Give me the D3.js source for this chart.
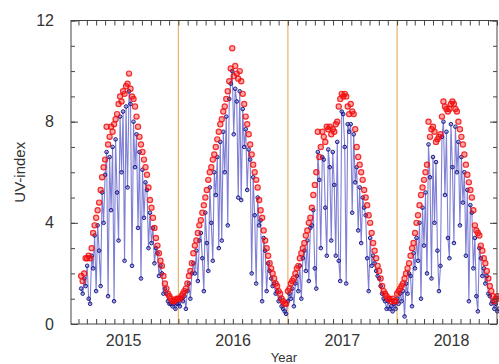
<!DOCTYPE html>
<html>
<head>
<meta charset="utf-8">
<title>UV-index</title>
<script src="https://cdn.jsdelivr.net/npm/d3@7"></script>
<style>
  body { margin: 0; background: #fff; }
  svg { display: block; font-family: "Liberation Sans", Arial, Helvetica, sans-serif; }
</style>
</head>
<body>
<div id="chart"></div>
<script>
// UV-index, one reading every 5 days; day offsets counted from 1 Jan of each year
var step = 5;
var years = [2015, 2016, 2017, 2018];
var firstDay = [40, 0, 0, 0];

// clear-sky UV (red)
var clear2015 = [1.9,1.7,2.0,2.6,2.6,2.7,2.6,3.0,3.6,3.9,4.2,4.5,4.8,5.3,5.8,6.2,6.5,7.8,7.1,7.4,
  7.8,7.6,7.9,8.1,8.3,8.7,9.0,8.8,9.2,9.1,9.4,9.5,9.9,9.3,9.0,8.9,8.6,8.2,7.8,7.4,
  7.1,6.8,6.5,6.2,5.9,5.4,4.9,4.6,4.2,3.8,3.4,3.1,2.8,2.5,2.3,1.9,1.6,1.4,1.2,1.1,
  1.0,0.9,0.9,0.95,1.0];
var clear2016 = [1.0,1.0,1.1,1.2,1.3,1.4,1.6,1.9,2.1,2.4,2.8,3.1,3.3,3.6,3.9,4.1,4.4,4.7,5.0,5.3,
  5.7,6.0,6.2,6.5,6.7,7.0,7.3,7.6,7.9,8.1,8.4,8.6,8.9,9.2,9.6,10.1,10.9,9.8,10.2,9.9,
  9.7,10.0,9.6,9.1,8.7,8.2,7.9,7.5,7.1,6.7,6.3,6.0,5.7,5.4,4.9,4.5,4.2,3.7,3.3,3.0,
  2.7,2.4,2.2,2.0,1.8,1.6,1.5,1.3,1.2,1.0,0.9,0.8,0.8];
var clear2017 = [1.3,1.4,1.6,1.7,1.8,2.0,2.2,2.3,2.6,2.8,3.0,3.2,3.5,3.7,4.0,4.2,4.6,5.1,5.5,6.0,
  7.6,6.6,7.0,7.6,7.4,7.2,7.8,7.7,7.8,7.5,7.7,7.6,7.9,8.0,8.6,8.9,9.1,9.0,9.1,9.0,
  8.6,8.3,8.7,8.4,8.3,7.7,7.0,6.6,6.3,6.0,5.7,5.3,5.0,4.7,4.3,4.0,3.6,3.2,2.9,2.6,
  2.3,2.1,1.8,1.5,1.3,1.2,1.1,1.0,1.0,0.9,1.0,0.9,0.9];
var clear2018 = [1.2,1.3,1.4,1.5,1.6,1.8,2.0,2.2,2.4,2.7,3.0,3.2,3.6,4.0,4.3,4.7,5.1,5.4,5.7,6.0,
  6.3,8.0,7.4,7.7,7.8,7.6,7.2,7.3,7.4,7.5,8.2,8.8,8.6,8.5,8.4,8.5,8.7,8.8,8.7,8.5,
  8.4,8.0,7.7,7.4,7.1,6.7,6.3,5.9,5.6,5.3,5.0,4.5,3.9,3.7,3.6,3.5,3.1,2.9,2.6,2.4,
  2.1,1.8,1.5,1.3,1.1,0.9,1.0,1.1,1.0];

// measured UV (blue)
var meas2015 = [1.4,1.2,1.8,1.5,2.3,1.0,0.8,2.7,2.2,3.5,1.3,3.9,2.9,1.5,5.2,4.0,5.9,6.8,1.1,6.6,
  4.5,7.0,0.9,7.3,5.2,3.3,8.2,6.0,8.4,2.5,8.6,5.4,9.2,8.7,2.3,8.0,6.2,7.5,3.8,6.8,
  1.8,6.1,4.2,5.6,5.3,3.0,4.4,3.2,3.8,2.4,3.0,2.8,1.9,2.3,2.0,1.2,1.4,1.2,0.9,0.8,
  0.8,0.7,0.8,0.6,0.8];
var meas2016 = [0.8,0.7,1.0,0.9,1.1,0.6,1.3,1.6,1.0,2.0,2.4,2.0,2.9,1.7,3.3,3.6,2.6,1.3,4.4,3.2,
  2.1,5.4,4.0,2.5,6.0,5.1,6.6,3.0,7.2,3.3,7.6,6.0,8.2,3.9,8.9,9.5,10.0,7.5,9.3,8.8,
  5.0,9.2,4.9,8.5,7.0,7.7,5.3,6.9,6.5,2.0,5.8,4.3,1.6,5.0,3.9,4.1,0.9,3.4,2.9,1.3,
  2.4,2.1,1.8,1.5,1.6,1.2,1.3,0.9,1.0,0.7,0.6,0.5,0.4];
var meas2017 = [0.9,1.2,1.0,1.4,0.7,1.6,1.9,1.3,2.3,1.0,2.6,2.9,2.1,3.3,1.7,3.8,3.9,4.5,2.2,1.4,
  6.8,5.7,3.0,6.6,6.5,4.6,2.7,6.9,6.2,3.3,6.8,5.5,2.7,7.2,2.5,1.7,8.4,8.3,7.0,1.6,
  7.9,7.6,7.9,4.4,7.5,5.6,6.2,3.7,5.4,3.2,5.0,4.6,4.3,2.6,1.3,3.4,2.3,2.7,2.4,2.1,
  1.9,1.8,1.5,1.2,1.0,0.9,0.6,0.9,0.6,0.7,0.5,0.8,0.6];
var meas2018 = [1.0,0.8,1.2,0.9,1.3,0.3,1.6,1.2,2.0,1.9,0.7,2.8,2.2,3.4,2.5,4.0,1.0,4.6,3.1,5.2,
  2.0,7.1,5.8,1.8,6.6,4.0,6.4,2.9,1.3,2.3,7.4,8.0,5.1,7.6,3.4,2.6,7.9,6.2,3.2,7.8,
  6.0,7.2,3.9,6.6,4.8,6.0,2.7,5.3,0.9,4.7,4.4,2.2,3.4,1.1,0.5,3.0,2.6,1.9,2.2,1.6,
  1.9,1.2,1.1,0.8,0.9,0.6,0.8,0.5,0.6];

var clearByYear = [clear2015, clear2016, clear2017, clear2018];
var measByYear = [meas2015, meas2016, meas2017, meas2018];

var yTicksMajor = [0, 4, 8, 12];
var yearLines = [2016, 2017, 2018];

var svgW = 499, svgH = 364;
var padL = 71, padR = 497, padT = 20.5, padB = 324;

function toRows(byYear) {
  var rows = [];
  byYear.forEach(function(vals, k) {
    vals.forEach(function(v, i) {
      rows.push({ date: d3.timeDay.offset(new Date(years[k], 0, 1), firstDay[k] + i * step), value: v });
    });
  });
  return rows;
}
var clear = toRows(clearByYear);
var meas = toRows(measByYear);

var x = d3.scaleTime()
  .domain([new Date(2015, 0, 7), new Date(2018, 11, 1)])
  .range([padL, padR]);
var y = d3.scaleLinear().domain([0, 12]).range([padB, padT]);

var svg = d3.select("#chart").append("svg")
  .attr("width", svgW)
  .attr("height", svgH);

// year separators
svg.append("g").selectAll("line")
  .data(yearLines)
  .join("line")
    .attr("x1", d => x(new Date(d, 0, 1)))
    .attr("x2", d => x(new Date(d, 0, 1)))
    .attr("y1", padT)
    .attr("y2", padB)
    .attr("stroke", "#e9b36a")
    .attr("stroke-width", 1.2);

// measured series: thin line + markers
var line = d3.line().x(d => x(d.date)).y(d => y(d.value));
svg.append("path")
  .datum(meas)
  .attr("d", line)
  .attr("fill", "none")
  .attr("stroke", "#2a2ab8")
  .attr("stroke-opacity", 0.6)
  .attr("stroke-width", 1.1);

svg.append("g").selectAll("circle")
  .data(meas)
  .join("circle")
    .attr("cx", d => x(d.date))
    .attr("cy", d => y(d.value))
    .attr("r", 1.8)
    .attr("fill", "rgba(30,30,150,0.3)")
    .attr("stroke", "#1a1a8c")
    .attr("stroke-width", 1);

// clear-sky markers
svg.append("g").selectAll("circle")
  .data(clear)
  .join("circle")
    .attr("cx", d => x(d.date))
    .attr("cy", d => y(d.value))
    .attr("r", 2.6)
    .attr("fill", "rgba(255,0,0,0.35)")
    .attr("stroke", "#f01010")
    .attr("stroke-opacity", 0.85)
    .attr("stroke-width", 1.2);

// frame
svg.append("rect")
  .attr("x", padL).attr("y", padT)
  .attr("width", padR - padL).attr("height", padB - padT)
  .attr("fill", "none")
  .attr("stroke", "#444")
  .attr("stroke-width", 1);

// month ticks top and bottom, inward
var xAxisB = d3.axisBottom(x).ticks(d3.timeMonth.every(1)).tickSize(-5).tickFormat("");
var xAxisT = d3.axisTop(x).ticks(d3.timeMonth.every(1)).tickSize(-5).tickFormat("");
svg.append("g").attr("transform", `translate(0,${padB})`).call(xAxisB);
svg.append("g").attr("transform", `translate(0,${padT})`).call(xAxisT);

// y ticks: minor every unit, major labelled
var yMinorL = d3.axisLeft(y).ticks(12).tickSize(-4).tickFormat("");
var yMinorR = d3.axisRight(y).ticks(12).tickSize(-4).tickFormat("");
var yMajorL = d3.axisLeft(y).tickValues(yTicksMajor).tickSize(-7).tickPadding(17).tickFormat(d3.format("d"));
var yMajorR = d3.axisRight(y).tickValues(yTicksMajor).tickSize(-7).tickFormat("");
svg.append("g").attr("transform", `translate(${padL},0)`).call(yMinorL);
svg.append("g").attr("transform", `translate(${padR},0)`).call(yMinorR);
svg.append("g").attr("transform", `translate(${padL},0)`).call(yMajorL);
svg.append("g").attr("transform", `translate(${padR},0)`).call(yMajorR);
svg.selectAll(".domain").remove();
svg.selectAll(".tick line").attr("stroke", "#444");
svg.selectAll(".tick text")
  .attr("font-size", 16)
  .attr("fill", "#333")
  .attr("font-family", "'Liberation Sans', Arial, sans-serif");

// year labels under each year
svg.append("g").selectAll("text")
  .data(years)
  .join("text")
    .attr("x", d => x(new Date(d, 6, 2)))
    .attr("y", 346)
    .attr("text-anchor", "middle")
    .attr("font-size", 16)
    .attr("fill", "#333")
    .text(d => d);

svg.append("text")
  .attr("x", (padL + padR) / 2)
  .attr("y", 362)
  .attr("text-anchor", "middle")
  .attr("font-size", 13)
  .attr("fill", "#333")
  .text("Year");

svg.append("text")
  .attr("transform", `translate(25,${(padT + padB) / 2}) rotate(-90)`)
  .attr("text-anchor", "middle")
  .attr("font-size", 15)
  .attr("fill", "#333")
  .text("UV-index");
</script>
</body>
</html>
